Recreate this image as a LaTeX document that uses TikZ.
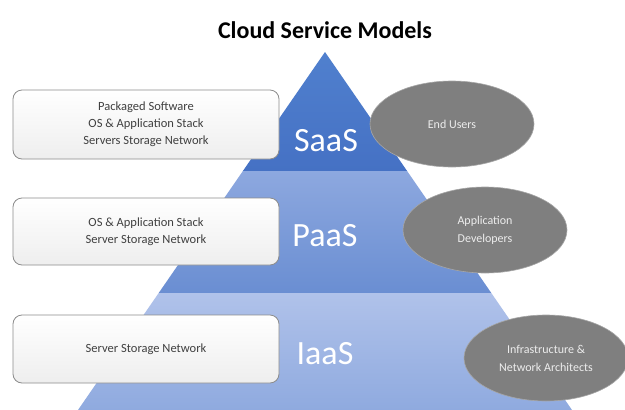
\documentclass[tikz,border=0pt]{standalone}
\usepackage{fontspec}
\setmainfont{Carlito}
\usetikzlibrary{shapes.geometric}

\tikzset{
  stackbox/.style={rectangle, rounded corners=9pt, draw=boxline, line width=0.8pt,
    top color=white, bottom color=boxfill, minimum width=266pt, minimum height=68pt,
    align=center, text=boxtext, font=\fontsize{12.5}{17}\selectfont},
  tiername/.style={text=white, font=\fontsize{34}{38}\selectfont},
  usergroup/.style={ellipse, fill=usergray, draw=userline, line width=0.6pt,
    minimum width=164pt, minimum height=86pt, inner sep=0pt, align=center,
    text=usertext, font=\fontsize{12}{18}\selectfont}
}

\begin{document}
\begin{tikzpicture}[x=1pt, y=-1pt]
\definecolor{saas}{HTML}{4571C4}
\definecolor{saastop}{HTML}{5080CE}
\definecolor{paastop}{HTML}{8DA8DF}
\definecolor{paas}{HTML}{6A8ED2}
\definecolor{iaastop}{HTML}{B0C2EA}
\definecolor{iaas}{HTML}{8FAADF}
\definecolor{boxline}{HTML}{8C8C8C}
\definecolor{boxfill}{HTML}{EEEEEE}
\definecolor{boxtext}{HTML}{404040}
\definecolor{usergray}{HTML}{7F7F7F}
\definecolor{userline}{HTML}{A6A6A6}
\definecolor{usertext}{HTML}{EDEDED}
\useasboundingbox (0,0) rectangle (625,410);
\fill[white] (0,0) rectangle (625,410);
%Title:
\node[font=\fontsize{24}{28}\selectfont\bfseries] (title) at (325,30) {Cloud Service Models};
%Pyramid:
\shade[top color=saastop, bottom color=saas] (325,52) -- (407.1,171) -- (242.9,171) -- cycle;
\shade[top color=paastop, bottom color=paas] (242.9,171) -- (407.1,171) -- (491.3,293) -- (158.7,293) -- cycle;
\shade[top color=iaastop, bottom color=iaas] (158.7,293) -- (491.3,293) -- (572,410) -- (78,410) -- cycle;
%Stacks:
\node[stackbox, minimum height=69pt] (saasbox) at (146,124.5) {Packaged Software\\OS \& Application Stack\\Servers Storage Network};
\node[stackbox, minimum height=67pt] (paasbox) at (146,231.5) {OS \& Application Stack\\Server Storage Network};
\node[stackbox] (iaasbox) at (146,349) {Server Storage Network};
%Tiers:
\node[tiername] (saas) at (326,141) {SaaS};
\node[tiername] (paas) at (325,236) {PaaS};
\node[tiername] (iaas) at (325,354) {IaaS};
%Users:
\node[usergroup] (endusers) at (452,124) {End Users};
\node[usergroup] (appdevs) at (485,230) {Application\\Developers};
\node[usergroup] (architects) at (546,358) {Infrastructure \&\\Network Architects};
\end{tikzpicture}
\end{document}
